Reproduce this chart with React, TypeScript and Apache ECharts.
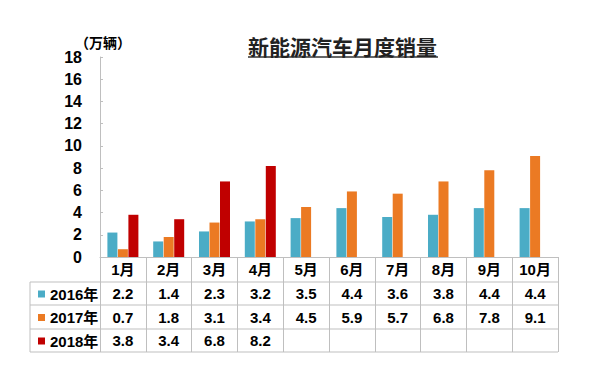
import React, { useEffect, useRef } from "react";
import * as echarts from "echarts";

const months = ["1月", "2月", "3月", "4月", "5月", "6月", "7月", "8月", "9月", "10月"];
const seriesNames = ["2016年", "2017年", "2018年"];
const sales2016 = [2.2, 1.4, 2.3, 3.2, 3.5, 4.4, 3.6, 3.8, 4.4, 4.4];
const sales2017 = [0.7, 1.8, 3.1, 3.4, 4.5, 5.9, 5.7, 6.8, 7.8, 9.1];
const sales2018 = [3.8, 3.4, 6.8, 8.2, null, null, null, null, null, null];
const colors = ["#4BACC6", "#EB7A23", "#C00000"];

const FONT = "'Liberation Sans', Arial, 'Noto Sans CJK SC', sans-serif";
const LINE = "#BFBFBF";

export default function App() {
  const ref = useRef<HTMLDivElement>(null);
  useEffect(() => {
    if (!ref.current) return;
    const chart = echarts.init(ref.current, undefined, { renderer: "svg" });
    const gridLeft = 100;
    const gridRight = 558;
    const zeroY = 257;
    const rows = [sales2016, sales2017, sales2018];
    const rowCenters = [293.5, 317, 340.5];
    const tableAxes = rows.map((vals, r) => ({
      type: "category" as const,
      data: months,
      position: "bottom" as const,
      offset: rowCenters[r] - zeroY,
      axisLine: { show: false },
      axisTick: { show: false },
      axisLabel: {
        interval: 0,
        margin: 0,
        verticalAlign: "middle",
        fontFamily: FONT,
        fontSize: 15,
        fontWeight: "bold",
        color: "#000",
        formatter: (_v: string, i: number) => (vals[i] == null ? "" : String(vals[i])),
      },
    }));
    const hLines = [282, 305, 329, 352].map((y) => ({
      type: "line",
      shape: { x1: 30, y1: y, x2: gridRight, y2: y },
      style: { stroke: LINE, lineWidth: 1 },
      silent: true,
    }));
    chart.setOption({
      animation: false,
      color: colors,
      title: {
        text: "新能源汽车月度销量",
        left: 243,
        top: 30,
        textStyle: {
          fontFamily: "'Noto Sans CJK SC', sans-serif",
          fontSize: 21,
          fontWeight: "bold",
          color: "#222",
        },
      },
      legend: {
        orient: "vertical",
        left: 33,
        top: 281,
        itemGap: 7.5,
        itemWidth: 7,
        itemHeight: 7,
        icon: "rect",
        selectedMode: false,
        data: seriesNames,
        textStyle: {
          fontFamily: FONT,
          fontSize: 15,
          fontWeight: "bold",
          color: "#000",
          lineHeight: 16,
        },
      },
      grid: { left: gridLeft, right: 600 - gridRight, top: 57, bottom: 365 - zeroY },
      xAxis: [
        {
          type: "category",
          data: months,
          axisLine: { lineStyle: { color: LINE } },
          axisTick: { show: true, length: 95, lineStyle: { color: LINE } },
          axisLabel: {
            interval: 0,
            margin: 12.5,
            verticalAlign: "middle",
            fontFamily: FONT,
            fontSize: 15,
            fontWeight: "bold",
            color: "#000",
          },
        },
        ...tableAxes,
      ],
      yAxis: {
        type: "value",
        min: 0,
        max: 18,
        interval: 2,
        name: "（万辆）",
        nameLocation: "end",
        nameGap: 5,
        nameTextStyle: {
          fontFamily: "'Noto Sans CJK SC', sans-serif",
          fontSize: 14,
          fontWeight: "bold",
          color: "#000",
          padding: [0, 0, 0, 6],
        },
        axisLine: { show: true, lineStyle: { color: LINE } },
        axisTick: { show: true, inside: true, length: 3, lineStyle: { color: LINE } },
        splitLine: { show: false },
        axisLabel: {
          margin: 18,
          fontFamily: FONT,
          fontSize: 16,
          fontWeight: "bold",
          color: "#000",
        },
      },
      series: rows.map((vals, i) => ({
        name: seriesNames[i],
        type: "bar",
        xAxisIndex: 0,
        data: vals,
        barWidth: 10,
        barGap: "5%",
        itemStyle: { color: colors[i] },
      })),
      graphic: [
        ...hLines,
        {
          type: "line",
          shape: { x1: 30, y1: 282, x2: 30, y2: 352 },
          style: { stroke: LINE, lineWidth: 1 },
          silent: true,
        },
        {
          type: "line",
          shape: { x1: 248, y1: 57, x2: 438, y2: 57 },
          style: { stroke: "#333", lineWidth: 1.5 },
          silent: true,
        },
      ],
    });
    return () => chart.dispose();
  }, []);
  return <div ref={ref} style={{ width: 600, height: 365, position: "absolute", left: 0, top: 0, background: "#fff" }} />;
}
